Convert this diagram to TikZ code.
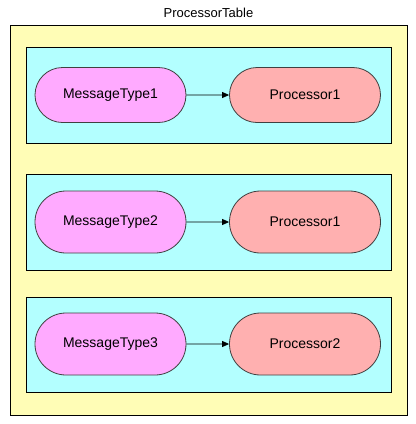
\documentclass[tikz,border=0pt]{standalone}
\usepackage{fontspec}
\setmainfont{Liberation Sans}
\usetikzlibrary{shapes.misc,arrows.meta}
\definecolor{outerY}{HTML}{FFFDB6}
\definecolor{innerC}{HTML}{B3FFFF}
\definecolor{msgP}{HTML}{FFAAFF}
\definecolor{procR}{HTML}{FFB0B0}
\tikzset{
  outerbox/.style={draw=black, line width=1bp, fill=outerY},
  rowbox/.style={draw=black, line width=1bp, fill=innerC},
  pill/.style={rounded rectangle, draw=black!75, line width=0.8bp, minimum width=151bp, inner sep=0pt, font=\fontsize{14bp}{16bp}\selectfont},
  msg/.style={pill, fill=msgP},
  proc/.style={pill, fill=procR},
  conn/.style={draw=black, line width=0.8bp, -{Triangle[length=7bp,width=6bp]}}
}
\begin{document}
\begin{tikzpicture}[x=1bp,y=-1bp]
\useasboundingbox (0,0) rectangle (416,424);
\fill[white] (0,0) rectangle (416,424);
\node[font=\fontsize{13bp}{15bp}\selectfont] (title) at (208.5,13) {ProcessorTable};
\path[outerbox] (10,25) rectangle (407,415);
\path[rowbox] (26,47) rectangle (391,143);
\path[rowbox] (26,174) rectangle (391,270);
\path[rowbox] (26,297) rectangle (391,392);
\node[msg, minimum height=55bp] (m1) at (110.5,95) {MessageType1};
\node[proc, minimum height=55bp] (p1) at (305,95) {Processor1};
\node[msg, minimum height=62bp] (m2) at (110.5,222) {MessageType2};
\node[proc, minimum height=62bp] (p2) at (305,222) {Processor1};
\node[msg, minimum height=62bp] (m3) at (110.5,344) {MessageType3};
\node[proc, minimum height=62bp] (p3) at (305,344) {Processor2};
\draw[conn] (m1) -- (p1);
\draw[conn] (m2) -- (p2);
\draw[conn] (m3) -- (p3);
\end{tikzpicture}
\end{document}
